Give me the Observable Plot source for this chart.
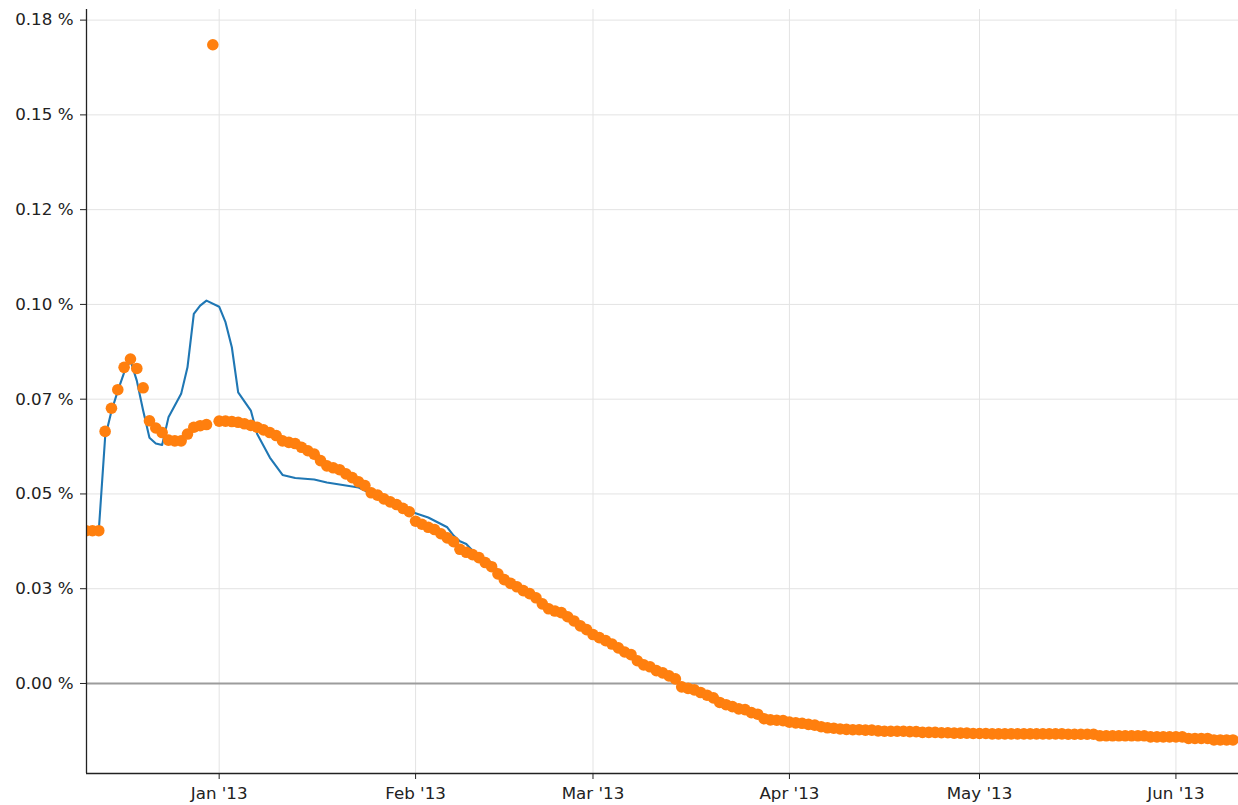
<!DOCTYPE html>
<html>
<head>
<meta charset="utf-8">
<script src="https://cdn.jsdelivr.net/npm/d3@7"></script>
<script src="https://cdn.jsdelivr.net/npm/@observablehq/plot@0.6"></script>
<style>
  body { margin: 0; background: #ffffff; }
  #chart svg { display: block; }
</style>
</head>
<body>
<div id="chart"></div>
<script>
// ---- Data (values in percent) ----
// Daily orange series, starting 2012-12-11
const dotStart = "2012-12-11";
const dotValuesDec = [0.0403, 0.0403, 0.0403, 0.0665, 0.0726, 0.0775, 0.0834, 0.0856, 0.0831, 0.0780,
  0.0693, 0.0674, 0.0662, 0.0642, 0.0640, 0.0640, 0.0658, 0.0676, 0.0680, 0.0683, 0.1685];
const dotValuesJan = [0.0692, 0.0692, 0.0691, 0.0689, 0.0685, 0.0681, 0.0676, 0.0669, 0.0662, 0.0654,
  0.0640, 0.0636, 0.0633, 0.0623, 0.0614, 0.0605, 0.0588, 0.0574, 0.0569, 0.0564,
  0.0553, 0.0543, 0.0532, 0.0522, 0.0503, 0.0497, 0.0487, 0.0479, 0.0472, 0.0462, 0.0453];
const dotValuesFeb = [0.0428, 0.0420, 0.0412, 0.0406, 0.0395, 0.0384, 0.0374, 0.0354, 0.0346, 0.0340,
  0.0332, 0.0319, 0.0308, 0.0289, 0.0274, 0.0264, 0.0255, 0.0245, 0.0237, 0.0226,
  0.0210, 0.0197, 0.0191, 0.0187, 0.0176, 0.0165, 0.0152, 0.0142];
const dotValuesMar = [0.0129, 0.0121, 0.0113, 0.0104, 0.0094, 0.0083, 0.0076, 0.0060, 0.0049, 0.0044,
  0.0034, 0.0028, 0.0020, 0.0012, -0.0009, -0.0013, -0.0017, -0.0024, -0.0031, -0.0038,
  -0.0050, -0.0056, -0.0061, -0.0067, -0.0069, -0.0077, -0.0081, -0.0093, -0.0096, -0.0097, -0.0098];
const dotValuesApr = [-0.0102, -0.0104, -0.0105, -0.0108, -0.0110, -0.0114, -0.0117, -0.0118, -0.0120, -0.0121,
  -0.0122, -0.0122, -0.0123, -0.0123, -0.0125, -0.0126, -0.0126, -0.0126, -0.0126, -0.0127,
  -0.0127, -0.0129, -0.0129, -0.0129, -0.0130, -0.0130, -0.0131, -0.0131, -0.0131, -0.0132];
const dotValuesMay = [-0.0132, -0.0132, -0.0133, -0.0133, -0.0133, -0.0133, -0.0133, -0.0133, -0.0133, -0.0133,
  -0.0133, -0.0133, -0.0133, -0.0133, -0.0134, -0.0134, -0.0134, -0.0134, -0.0134, -0.0138,
  -0.0138, -0.0138, -0.0138, -0.0138, -0.0138, -0.0138, -0.0138, -0.0141, -0.0141, -0.0141, -0.0141];
const dotValuesJun = [-0.0141, -0.0141, -0.0145, -0.0145, -0.0145, -0.0145, -0.0149, -0.0149, -0.0149, -0.0149];

// Blue line series
const lineDates = ["2012-12-11", "2012-12-13", "2012-12-14", "2012-12-15", "2012-12-16", "2012-12-17",
  "2012-12-18", "2012-12-19", "2012-12-20", "2012-12-21", "2012-12-22", "2012-12-23", "2012-12-24",
  "2012-12-26", "2012-12-27", "2012-12-28", "2012-12-29", "2012-12-30", "2013-01-01", "2013-01-02",
  "2013-01-03", "2013-01-04", "2013-01-06", "2013-01-07", "2013-01-09", "2013-01-11", "2013-01-13",
  "2013-01-16", "2013-01-18", "2013-01-23", "2013-01-24", "2013-01-27", "2013-01-30", "2013-02-01",
  "2013-02-03", "2013-02-06", "2013-02-07", "2013-02-08", "2013-02-09", "2013-02-10", "2013-02-13",
  "2013-02-14"];
const lineValues = [0.0403, 0.0403, 0.0649, 0.0718, 0.0772, 0.0820, 0.0852, 0.0799, 0.0720, 0.0648,
  0.0633, 0.0629, 0.0702, 0.0764, 0.0834, 0.0975, 0.0997, 0.1010, 0.0994, 0.0953,
  0.0887, 0.0768, 0.0720, 0.0658, 0.0596, 0.0550, 0.0542, 0.0538, 0.0530, 0.0517,
  0.0509, 0.0487, 0.0460, 0.0449, 0.0438, 0.0412, 0.0390, 0.0375, 0.0368, 0.0350,
  0.0319, 0.0298];

// Axis ticks
const yTicks = [0, 0.025, 0.05, 0.075, 0.1, 0.125, 0.15, 0.175];
const yTickLabels = ["0.00 %", "0.03 %", "0.05 %", "0.07 %", "0.10 %", "0.12 %", "0.15 %", "0.18 %"];
const xTicks = ["2013-01-01", "2013-02-01", "2013-03-01", "2013-04-01", "2013-05-01", "2013-06-01"];
const xTickLabels = ["Jan '13", "Feb '13", "Mar '13", "Apr '13", "May '13", "Jun '13"];

// ---- Build tables ----
const parse = (s) => new Date(s + "T00:00:00Z");
const dotValues = [].concat(dotValuesDec, dotValuesJan, dotValuesFeb, dotValuesMar, dotValuesApr, dotValuesMay, dotValuesJun);
const start = parse(dotStart);
const dots = dotValues.map((v, i) => ({date: d3.utcDay.offset(start, i), value: v}));
const line = lineDates.map((d, i) => ({date: parse(d), value: lineValues[i]}));
const xTickDates = xTicks.map(parse);

const xDomain = [new Date("2012-12-11T01:30:00Z"), new Date("2013-06-10T21:00:00Z")];
const yDomain = [-0.02375, 0.1778];

const ink = "#222222";

const chart = Plot.plot({
  width: 1238,
  height: 805,
  marginLeft: 86,
  marginRight: 0,
  marginTop: 9,
  marginBottom: 32,
  style: {fontFamily: "DejaVu Sans", fontSize: "16.7px", color: ink, background: "#ffffff"},
  x: {type: "utc", domain: xDomain},
  y: {domain: yDomain},
  marks: [
    Plot.gridX(xTickDates, {stroke: "#e3e3e3", strokeOpacity: 1, strokeWidth: 1}),
    Plot.gridY(yTicks, {stroke: "#e3e3e3", strokeOpacity: 1, strokeWidth: 1}),
    Plot.ruleY([0], {stroke: "#9c9c9c", strokeWidth: 2}),
    Plot.line(line, {x: "date", y: "value", stroke: "#1f77b4", strokeWidth: 2.1, clip: true}),
    Plot.dot(dots, {x: "date", y: "value", r: 5.8, fill: "#ff7f0e", stroke: "none", clip: true}),
    Plot.ruleX([xDomain[0]], {stroke: ink, strokeWidth: 1.3}),
    Plot.ruleY([yDomain[0]], {stroke: ink, strokeWidth: 1.3}),
    Plot.axisY(yTicks, {
      tickFormat: (d) => yTickLabels[yTicks.indexOf(d)],
      tickSize: 6, tickPadding: 7, label: null, stroke: ink
    }),
    Plot.axisX(xTickDates, {
      tickFormat: (d) => xTickLabels[xTickDates.findIndex((t) => +t === +d)],
      tickSize: 6, tickPadding: 8, label: null, stroke: ink
    })
  ]
});

document.getElementById("chart").appendChild(chart);
</script>
</body>
</html>
